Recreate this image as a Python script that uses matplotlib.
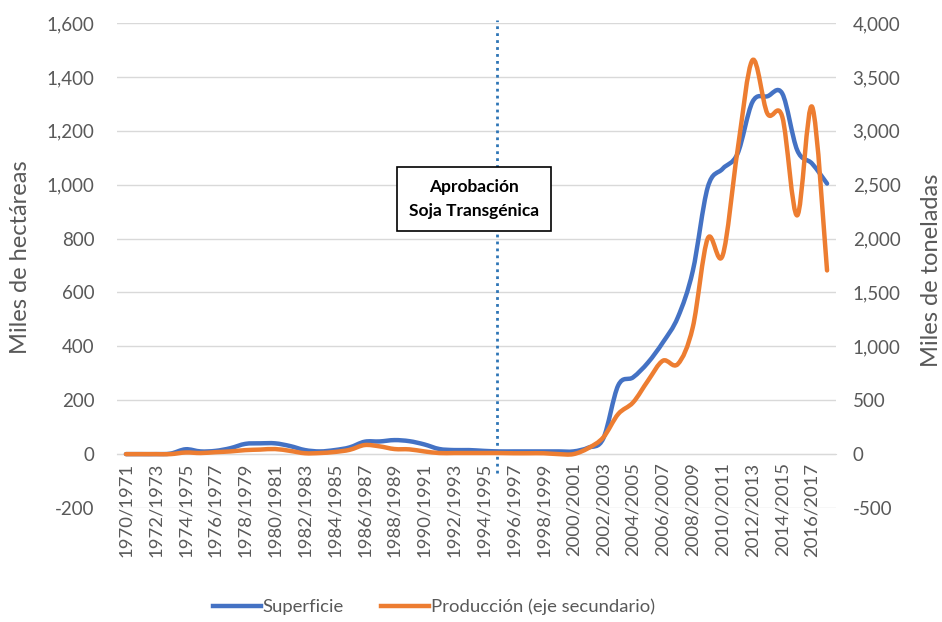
import matplotlib
matplotlib.use("Agg")
import matplotlib.pyplot as plt
from matplotlib.path import Path
from matplotlib.patches import PathPatch
from matplotlib.lines import Line2D
import numpy as np

plt.rcParams['font.family'] = ['Lato', 'DejaVu Sans']

years = [f"{y}/{y+1}" for y in range(1970, 2018)]

superficie = [0, 0, 0, 2, 18, 10, 12, 22, 38, 40, 40, 30, 15, 10, 15, 25,
              46, 47, 52, 48, 36, 19, 15, 15, 12, 10, 10, 10, 10, 10,
              10, 24, 58, 255, 285, 340, 415, 508, 680, 990,
              1059, 1115, 1307, 1328, 1338, 1128, 1078, 1004]

produccion = [0, 0, 0, 0, 15, 10, 18, 25, 37, 42, 47, 30, 8, 10, 20, 40,
              84, 72, 47, 44, 25, 10, 10, 10, 10, 10, 8, 8, 8, 0,
              0, 56, 155, 372, 480, 682, 867, 836, 1177, 2000,
              1843, 2819, 3655, 3160, 3129, 2215, 3222, 1704]

left_ticks = [-200, 0, 200, 400, 600, 800, 1000, 1200, 1400, 1600]
right_ticks = [-500, 0, 500, 1000, 1500, 2000, 2500, 3000, 3500, 4000]

BLUE = '#4472C4'
ORANGE = '#ED7D31'
GRAY = '#595959'
GRID = '#D9D9D9'


def smooth_path(xs, ys):
    xs = np.asarray(xs, float)
    ys = np.asarray(ys, float)
    n = len(xs)
    verts = [(xs[0], ys[0])]
    codes = [Path.MOVETO]
    for i in range(n - 1):
        i0 = max(i - 1, 0)
        i3 = min(i + 2, n - 1)
        c1 = (xs[i] + (xs[i + 1] - xs[i0]) / 6, ys[i] + (ys[i + 1] - ys[i0]) / 6)
        c2 = (xs[i + 1] - (xs[i3] - xs[i]) / 6, ys[i + 1] - (ys[i3] - ys[i]) / 6)
        verts += [c1, c2, (xs[i + 1], ys[i + 1])]
        codes += [Path.CURVE4] * 3
    return Path(verts, codes)


fig = plt.figure(figsize=(9.42, 6.22), dpi=100)
ax = fig.add_axes([117 / 942, 1 - 508 / 622, (836 - 117) / 942, (508 - 23) / 622])
ax2 = ax.twinx()

x = np.arange(len(years))

ax.set_xlim(-0.6, len(years) - 0.4)
ax.set_ylim(-200, 1600)
ax2.set_ylim(-500, 4000)

ax.set_yticks(left_ticks)
ax.set_yticklabels([f"{v:,}" for v in left_ticks])
ax2.set_yticks(right_ticks)
ax2.set_yticklabels([f"{v:,}" for v in right_ticks])

ax.yaxis.grid(True, color=GRID, linewidth=1)
ax.set_axisbelow(True)

for s in ['top', 'right', 'left']:
    ax.spines[s].set_visible(False)
for s in ax2.spines.values():
    s.set_visible(False)
ax.spines['bottom'].set_position(('data', 0))
ax.spines['bottom'].set_color(GRID)

ax.set_xticks(x[::2])
ax.set_xticklabels(years[::2], rotation=90, fontsize=13.3, color=GRAY)
ax.tick_params(axis='x', length=0, pad=6)
ax.tick_params(axis='y', length=0, labelsize=13.5, labelcolor=GRAY, pad=16)
ax2.tick_params(axis='y', length=0, labelsize=13.5, labelcolor=GRAY, pad=12)

# smoothed lines
p1 = PathPatch(smooth_path(x, superficie), fill=False, edgecolor=BLUE, lw=3.2,
               capstyle='round', joinstyle='round', transform=ax.transData, zorder=3)
ax.add_patch(p1)
p2 = PathPatch(smooth_path(x, produccion), fill=False, edgecolor=ORANGE, lw=3.2,
               capstyle='round', joinstyle='round', transform=ax2.transData, zorder=3)
ax2.add_patch(p2)

# approval marker
approval_x = 24.85
ax.vlines(approval_x, -70, 1612, colors='#2E75B6', linestyles=(0, (1, 1.5)), lw=2, clip_on=False, zorder=2)
ax2.text(23.35, 2370, "Aprobación\nSoja Transgénica", ha='center', va='center',
         fontsize=12.5, fontweight='bold', color='black', linespacing=1.6,
         bbox=dict(boxstyle='square,pad=0.7', facecolor='white', edgecolor='black', lw=1.2),
         zorder=5)

ax.set_ylabel("Miles de hectáreas", fontsize=17, color=GRAY, va='center')
ax.yaxis.set_label_coords(-(117 - 21) / 719, (508 - 257) / 485)
ax2.set_ylabel("Miles de toneladas", fontsize=17, color=GRAY, va='center')
ax2.yaxis.set_label_coords((932 - 117) / 719, (508 - 270) / 485)

handles = [Line2D([], [], color=BLUE, lw=3.2), Line2D([], [], color=ORANGE, lw=3.2)]
fig.legend(handles, ["Superficie", "Producción (eje secundario)"], loc='center',
           bbox_to_anchor=(434 / 942, 1 - 607 / 622), ncol=2, frameon=False, fontsize=13.3,
           labelcolor=GRAY, handlelength=2.6, handletextpad=0.1, columnspacing=2.0)

fig.savefig("out.png", dpi=100)
